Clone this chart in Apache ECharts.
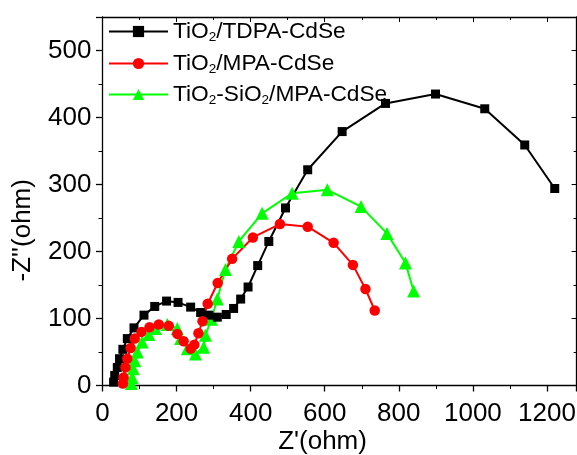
<!DOCTYPE html>
<html><head><meta charset="utf-8">
<script src="https://cdn.jsdelivr.net/npm/echarts@6/dist/echarts.min.js"></script>
<style>html,body{margin:0;padding:0;background:#fff}#c{width:577px;height:455px}</style>
</head><body><div id="c"></div>
<script>
// ---- data (ohm) ----
const seriesNames = ['TiO2/TDPA-CdSe', 'TiO2/MPA-CdSe', 'TiO2-SiO2/MPA-CdSe'];
const tdpaX = [30, 33, 40, 46, 55, 67, 85, 112, 141, 173, 204, 238, 265, 287, 310, 334, 354, 373, 393, 419, 449, 494, 554, 647, 764, 899, 1032, 1140, 1221];
const tdpaY = [5, 15, 27, 40, 54, 70, 86, 105, 118, 126, 124, 117, 109, 105, 102, 106, 115, 129, 147, 179, 215, 265, 322, 379, 421, 435, 413, 359, 294];
const mpaX = [55, 57, 62, 67, 76, 87, 105, 127, 152, 179, 202, 219, 238, 248, 259, 270, 284, 311, 350, 406, 479, 554, 624, 676, 710, 735];
const mpaY = [3, 12, 27, 40, 56, 70, 80, 87, 91, 89, 77, 66, 55, 61, 78, 96, 122, 153, 189, 221, 241, 237, 213, 180, 144, 112];
const sioX = [78, 80, 83, 87, 94, 107, 125, 143, 175, 202, 211, 229, 251, 273, 278, 294, 310, 332, 368, 431, 512, 607, 698, 768, 818, 840];
const sioY = [3, 12, 25, 37, 50, 65, 76, 85, 91, 85, 70, 55, 47, 57, 75, 99, 129, 173, 215, 257, 287, 292, 267, 227, 183, 141];
const xTickLabels = ['0', '200', '400', '600', '800', '1000', '1200'];
const yTickLabels = ['0', '100', '200', '300', '400', '500'];

const FONT = '"Liberation Sans", Arial, sans-serif';
const pairs = (xs, ys) => xs.map((x, i) => [x, ys[i]]);
const richName = {
  'TiO2/TDPA-CdSe': '{n|TiO}{s|2}{n|/TDPA-CdSe}',
  'TiO2/MPA-CdSe': '{n|TiO}{s|2}{n|/MPA-CdSe}',
  'TiO2-SiO2/MPA-CdSe': '{n|TiO}{s|2}{n|-SiO}{s|2}{n|/MPA-CdSe}'
};
const rich = {
  n: {fontSize: 22.7, fontFamily: FONT, color: '#000', lineHeight: 26, padding: [6, 0, 6, 0]},
  s: {fontSize: 13.5, fontFamily: FONT, color: '#000', lineHeight: 13, verticalAlign: 'bottom'}
};
const rowTops = [14, 46, 77];
const legends = seriesNames.map((nm, i) => ({
  data: [nm], left: 108, top: rowTops[i], padding: 0,
  itemWidth: 59, itemHeight: 14, itemGap: 0,
  formatter: (name) => richName[name],
  textStyle: {rich: rich}
}));

const axisCommon = {
  axisLine: {show: true, onZero: false, lineStyle: {color: '#000', width: 1.3}},
  splitLine: {show: false},
  minorSplitLine: {show: false}
};
const xMain = Object.assign({}, axisCommon, {
  type: 'value', position: 'bottom', min: 0, max: 1280, interval: 200,
  axisTick: {show: true, length: 6, inside: false, lineStyle: {color: '#000', width: 1.3}},
  minorTick: {show: true, splitNumber: 2, length: 3.5, lineStyle: {color: '#000', width: 1}},
  axisLabel: {show: true, fontSize: 26, fontFamily: FONT, color: '#000', margin: 15, showMaxLabel: false,
    formatter: (v) => xTickLabels.includes(String(v)) ? String(v) : ''},
  name: "Z'(ohm)", nameLocation: 'middle', nameGap: 43, nameMoveOverlap: false,
  nameTextStyle: {fontSize: 26, fontFamily: FONT, color: '#000', padding: [0, 34, 0, 0]}
});
const xTop = Object.assign({}, axisCommon, {
  type: 'value', position: 'top', min: 0, max: 1280, interval: 200,
  axisTick: {show: true, length: 5, inside: true, lineStyle: {color: '#000', width: 1}},
  minorTick: {show: true, splitNumber: 2, length: 3, lineStyle: {color: '#000', width: 1}},
  axisLabel: {show: false}
});
const yMain = Object.assign({}, axisCommon, {
  type: 'value', position: 'left', min: 0, max: 550, interval: 100,
  axisTick: {show: true, length: 6.5, inside: false, lineStyle: {color: '#000', width: 1.3}},
  minorTick: {show: true, splitNumber: 2, length: 4, lineStyle: {color: '#000', width: 1}},
  axisLabel: {show: true, fontSize: 26, fontFamily: FONT, color: '#000', margin: 11, showMaxLabel: false,
    formatter: (v) => yTickLabels.includes(String(v)) ? String(v) : ''},
  name: "-Z''(ohm)", nameLocation: 'middle', nameGap: 67, nameRotate: 90, nameMoveOverlap: false,
  nameTextStyle: {fontSize: 26, fontFamily: FONT, color: '#000', padding: [0, 58, 0, 0]}
});
const yRight = Object.assign({}, axisCommon, {
  type: 'value', position: 'right', min: 0, max: 550, interval: 100,
  axisTick: {show: true, length: 5, inside: true, lineStyle: {color: '#000', width: 1}},
  minorTick: {show: true, splitNumber: 2, length: 3, lineStyle: {color: '#000', width: 1}},
  axisLabel: {show: false}
});

function lineSeries(name, data, color, symbol, size) {
  return {
    name: name, type: 'line', data: data, xAxisIndex: 0, yAxisIndex: 0,
    symbol: symbol, symbolSize: size, showSymbol: true, showAllSymbol: true,
    lineStyle: {color: color, width: 2},
    itemStyle: {color: color, borderWidth: 0},
    emphasis: {disabled: true}, animation: false
  };
}

const chart = echarts.init(document.getElementById('c'), null, {renderer: 'canvas'});
chart.setOption({
  backgroundColor: '#fff',
  animation: false,
  grid: {left: 102.5, top: 17, width: 474.1, height: 368.5, containLabel: false, outerBoundsMode: 'none'},
  legend: legends,
  xAxis: [xMain, xTop],
  yAxis: [yMain, yRight],
  series: [
    lineSeries(seriesNames[2], pairs(sioX, sioY), '#00ff00', 'triangle', 13),
    lineSeries(seriesNames[0], pairs(tdpaX, tdpaY), '#000000', 'rect', 9),
    lineSeries(seriesNames[1], pairs(mpaX, mpaY), '#ff0000', 'circle', 10.5)
  ]
});
</script></body></html>
